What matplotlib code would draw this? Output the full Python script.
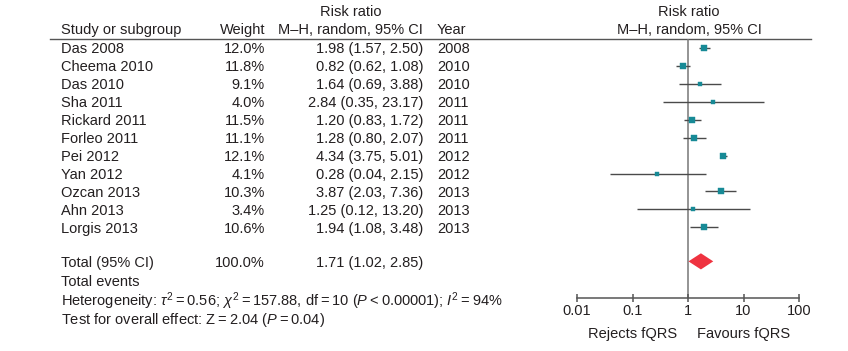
import numpy as np
import matplotlib
matplotlib.use("Agg")
import matplotlib.pyplot as plt

plt.rcParams['font.family'] = ['Liberation Sans', 'DejaVu Sans']
plt.rcParams['mathtext.fontset'] = 'custom'
plt.rcParams['mathtext.rm'] = 'Liberation Sans'
plt.rcParams['mathtext.it'] = 'Liberation Sans:italic'

# data
studies = ['Das 2008', 'Cheema 2010', 'Das 2010', 'Sha 2011', 'Rickard 2011', 'Forleo 2011',
           'Pei 2012', 'Yan 2012', 'Ozcan 2013', 'Ahn 2013', 'Lorgis 2013']
weights = [12.0, 11.8, 9.1, 4.0, 11.5, 11.1, 12.1, 4.1, 10.3, 3.4, 10.6]
rr = [1.98, 0.82, 1.64, 2.84, 1.20, 1.28, 4.34, 0.28, 3.87, 1.25, 1.94]
ci_lo = [1.57, 0.62, 0.69, 0.35, 0.83, 0.80, 3.75, 0.04, 2.03, 0.12, 1.08]
ci_hi = [2.50, 1.08, 3.88, 23.17, 1.72, 2.07, 5.01, 2.15, 7.36, 13.20, 3.48]
years = [2008, 2010, 2010, 2011, 2011, 2011, 2012, 2012, 2013, 2013, 2013]
total_rr, total_lo, total_hi = 1.71, 1.02, 2.85
total_weight = 100.0
xticks = [0.01, 0.1, 1, 10, 100]
xtick_labels = ['0.01', '0.1', '1', '10', '100']

W, H = 848, 351
TXT = '#231f20'
FS = 10.5


def row(px):
    """pixel height -> row units (row 0 = first study)"""
    return (px - 48) / 17.93


fig = plt.figure(figsize=(W / 100, H / 100), dpi=100)

# text part, x in pixels, y in rows
ax = fig.add_axes([0, 0, 1, 1])
ax.set_xlim(0, W)
ax.set_ylim(row(H), row(0))
ax.axis('off')

base = 0.3  # baseline below row centre
ax.text(351, -2.11 + base, 'Risk ratio', ha='center', va='baseline', fontsize=FS, color=TXT)
ax.text(61, -1.07 + base, 'Study or subgroup', ha='left', va='baseline', fontsize=FS, color=TXT)
ax.text(265, -1.07 + base, 'Weight', ha='right', va='baseline', fontsize=FS, color=TXT)
ax.text(423, -1.07 + base, 'M\u2013H, random, 95% CI', ha='right', va='baseline', fontsize=FS, color=TXT)
ax.text(437, -1.07 + base, 'Year', ha='left', va='baseline', fontsize=FS, color=TXT)
ax.text(689, -2.11 + base, 'Risk ratio', ha='center', va='baseline', fontsize=FS, color=TXT)
ax.text(689, -1.07 + base, 'M\u2013H, random, 95% CI', ha='center', va='baseline', fontsize=FS, color=TXT)
ax.plot([50, 811], [row(39.3)] * 2, color='#555555', lw=1.0)

for i, name in enumerate(studies):
    y = i + base
    ax.text(61, y, name, ha='left', va='baseline', fontsize=FS, color=TXT)
    ax.text(265, y, '{:.1f}%'.format(weights[i]), ha='right', va='baseline', fontsize=FS, color=TXT)
    ax.text(423, y, '{:.2f} ({:.2f}, {:.2f})'.format(rr[i], ci_lo[i], ci_hi[i]),
            ha='right', va='baseline', fontsize=FS, color=TXT)
    ax.text(437, y, str(years[i]), ha='left', va='baseline', fontsize=FS, color=TXT)

y_tot = 11.9
ax.text(61, y_tot + base, 'Total (95% CI)', ha='left', va='baseline', fontsize=FS, color=TXT)
ax.text(265, y_tot + base, '{:.1f}%'.format(total_weight), ha='right', va='baseline', fontsize=FS, color=TXT)
ax.text(423, y_tot + base, '{:.2f} ({:.2f}, {:.2f})'.format(total_rr, total_lo, total_hi),
        ha='right', va='baseline', fontsize=FS, color=TXT)
ax.text(61, 12.97 + base, 'Total events', ha='left', va='baseline', fontsize=FS, color=TXT)
ts = '\u2009=\u2009'
ax.text(61, 14.08 + base,
        'Heterogeneity: $\\tau^{2}$' + ts + '0.56; $\\chi^{2}$' + ts + '157.88, df' + ts
        + '10 ($\\mathit{P}$\u2009<\u20090.00001); $\\mathit{I}^{2}$' + ts + '94%',
        ha='left', va='baseline', fontsize=FS, color=TXT)
ax.text(61, 15.1 + base,
        'Test for overall effect: Z' + ts + '2.04 ($\\mathit{P}$' + ts + '0.04)',
        ha='left', va='baseline', fontsize=FS, color=TXT)

# forest part
x0, x1, ytop, ybot = 577, 799, 39.3, 298
fa = fig.add_axes([x0 / W, (H - ybot) / H, (x1 - x0) / W, (ybot - ytop) / H])
fa.set_xscale('log')
fa.set_xlim(0.01, 100)
fa.set_ylim(row(ybot), row(ytop))
fa.patch.set_alpha(0)
for s in ['top', 'left', 'right']:
    fa.spines[s].set_visible(False)
fa.spines['bottom'].set_color('#555555')
fa.spines['bottom'].set_linewidth(1.1)
fa.set_yticks([])
fa.set_xticks(xticks)
fa.set_xticklabels(xtick_labels)
fa.minorticks_off()
fa.tick_params(axis='x', direction='inout', length=6, width=1.1, color='#555555',
               labelsize=FS, labelcolor=TXT, pad=1)
fa.axvline(1, color='#777777', lw=1.1, zorder=1)

for i in range(len(studies)):
    fa.plot([ci_lo[i], ci_hi[i]], [i, i], color='#4a4a4a', lw=1.0, zorder=2,
            solid_capstyle='butt')
    side = (2.2 + 0.28 * weights[i]) * 0.72
    fa.plot(rr[i], i, marker='s', ms=side, color='#178a96', mec='#178a96', mew=0.3, zorder=3)

hh = 0.45
fa.fill([total_lo, total_rr, total_hi, total_rr], [y_tot, y_tot - hh, y_tot, y_tot + hh],
        color='#ef3340', lw=0, zorder=3)

ax.text(677, row(338.3), 'Rejects fQRS', ha='right', va='baseline', fontsize=FS, color=TXT)
ax.text(697, row(338.3), 'Favours fQRS', ha='left', va='baseline', fontsize=FS, color=TXT)

fig.savefig('out.png', dpi=100)
